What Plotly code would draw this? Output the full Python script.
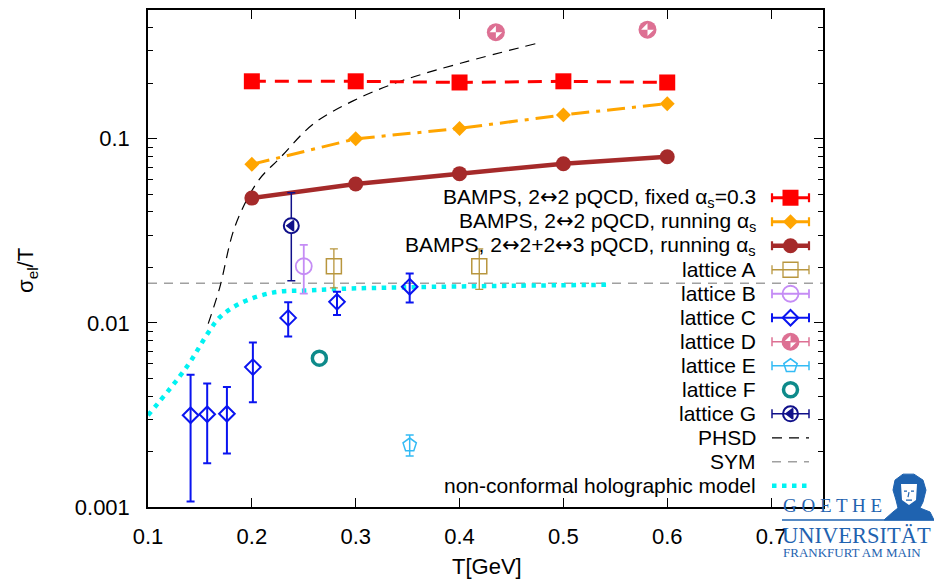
import plotly.graph_objects as go
import numpy as np

# ---------------- data ----------------
T_bamps = [0.2, 0.3, 0.4, 0.5, 0.6]
bamps_fixed = [0.205, 0.205, 0.202, 0.205, 0.202]
bamps_running = [0.0726, 0.0999, 0.1137, 0.1347, 0.155]
bamps_23 = [0.0476, 0.0568, 0.0646, 0.0731, 0.0798]

latA_T = [0.279, 0.419]
latA_v = [0.0203, 0.0203]
latA_up = [0.0252, 0.0252]
latA_lo = [0.0155, 0.0152]

latB_T = [0.25]
latB_v = [0.0203]
latB_up = [0.0265]
latB_lo = [0.0144]

latC_T = [0.141, 0.157, 0.176, 0.201, 0.235, 0.282, 0.352]
latC_v = [0.00315, 0.00319, 0.00321, 0.00575, 0.01064, 0.0130, 0.01572]
latC_up = [0.00523, 0.00468, 0.00448, 0.00782, 0.01293, 0.01477, 0.01856]
latC_lo = [0.00107, 0.00173, 0.00195, 0.00371, 0.00844, 0.01104, 0.01288]

latD_T = [0.435, 0.581]
latD_v = [0.379, 0.391]

latE_T = [0.352]
latE_v = [0.00217]
latE_up = [0.00246]
latE_lo = [0.00189]

latF_T = [0.265]
latF_v = [0.00643]

latG_T = [0.238]
latG_v = [0.0337]
latG_up = [0.0508]
latG_lo = [0.01694]

phsd_T = [0.158, 0.169, 0.184, 0.206, 0.227, 0.259, 0.297, 0.343, 0.401, 0.475]
phsd_v = [0.0099, 0.0155, 0.0337, 0.0589, 0.0785, 0.120, 0.160, 0.205, 0.257, 0.330]

sym_T = [0.1, 0.75]
sym_v = [0.0164, 0.0164]

holo_T = [0.10, 0.137, 0.158, 0.169, 0.188, 0.220, 0.253, 0.285, 0.349, 0.45, 0.545]
holo_v = [0.00315, 0.00573, 0.00885, 0.0107, 0.0127, 0.0146, 0.0150, 0.0153, 0.0156, 0.0159, 0.0161]

x_ticks = [0.1, 0.2, 0.3, 0.4, 0.5, 0.6, 0.7]
x_ticktext = ["0.1", "0.2", "0.3", "0.4", "0.5", "0.6", "0.7"]
y_ticks = [0.001, 0.01, 0.1]
y_ticktext = ["0.001", "0.01", "0.1"]

ARROW = "<span style='font-family:DejaVu Sans'>\u2194</span>"
legend_labels = [
    f"BAMPS, 2{ARROW}2 pQCD, fixed \u03b1<sub>s</sub>=0.3",
    f"BAMPS, 2{ARROW}2 pQCD, running \u03b1<sub>s</sub>",
    f"BAMPS, 2{ARROW}2+2{ARROW}3 pQCD, running \u03b1<sub>s</sub>",
    "lattice A", "lattice B", "lattice C", "lattice D", "lattice E",
    "lattice F", "lattice G", "PHSD", "SYM", "non-conformal holographic model",
]

# ---------------- layout geometry ----------------
W, H = 934, 579
L, R, TOP, BOT = 148, 823, 8, 507
FONT = "Liberation Sans, Arial, Helvetica, sans-serif"

def px(x):
    return (x - L) / (R - L)

def py(y):
    return (BOT - y) / (BOT - TOP)

def diff(v, b):
    return [abs(a - c) for a, c in zip(v, b)]

C_RED = "#ff0000"
C_ORANGE = "#ffa500"
C_BROWN = "#a52a2a"
C_A = "#b8963e"
C_B = "#c58cf5"
C_C = "#0a14f0"
C_D = "#dd7093"
C_E = "#33bbf5"
C_F = "#0e8a8a"
C_G = "#10108a"
C_SYM = "#a0a0a0"
C_HOLO = "#00f2f2"

fig = go.Figure()

def err(up, lo, v, color, w=1.6, cap=4):
    return dict(type="data", symmetric=False, array=diff(up, v), arrayminus=diff(v, lo),
                color=color, thickness=w, width=cap)

def markerD(x, y, xa="x", ya="y"):
    fig.add_trace(go.Scatter(x=x, y=y, xaxis=xa, yaxis=ya, mode="markers",
                             marker=dict(symbol="circle", size=18, color=C_D, line=dict(width=0)),
                             showlegend=False, hoverinfo="skip"))
    fig.add_trace(go.Scatter(x=x, y=y, xaxis=xa, yaxis=ya, mode="markers",
                             marker=dict(symbol="hourglass", size=9, angle=-45, color="white", line=dict(width=0)),
                             showlegend=False, hoverinfo="skip"))

def markerG(x, y, xa="x", ya="y"):
    fig.add_trace(go.Scatter(x=x, y=y, xaxis=xa, yaxis=ya, mode="markers",
                             marker=dict(symbol="circle", size=15, color="white", line=dict(width=2, color=C_G)),
                             showlegend=False, hoverinfo="skip"))
    fig.add_trace(go.Scatter(x=x, y=y, xaxis=xa, yaxis=ya, mode="markers",
                             marker=dict(symbol="triangle-left", size=9, color=C_G, line=dict(width=1.5, color=C_G)),
                             showlegend=False, hoverinfo="skip"))

def markerF(x, y, xa="x", ya="y"):
    fig.add_trace(go.Scatter(x=x, y=y, xaxis=xa, yaxis=ya, mode="markers",
                             marker=dict(symbol="circle-open", size=14, color=C_F, line=dict(width=3.5)),
                             showlegend=False, hoverinfo="skip"))

# reference lines
fig.add_trace(go.Scatter(x=sym_T, y=sym_v, mode="lines",
                         line=dict(color=C_SYM, width=1.5, dash="9px,7px"), showlegend=False))
fig.add_trace(go.Scatter(x=phsd_T, y=phsd_v, mode="lines", line_shape="spline",
                         line=dict(color="black", width=1.2, dash="10px,7px"), showlegend=False))
fig.add_trace(go.Scatter(x=holo_T, y=holo_v, mode="lines", line_shape="spline",
                         line=dict(color=C_HOLO, width=4.5, dash="4.5px,5.5px"), showlegend=False))

# BAMPS
fig.add_trace(go.Scatter(x=T_bamps, y=bamps_fixed, mode="lines+markers",
                         line=dict(color=C_RED, width=3, dash="14px,9px"),
                         marker=dict(symbol="square", size=16, color=C_RED), showlegend=False))
fig.add_trace(go.Scatter(x=T_bamps, y=bamps_running, mode="lines+markers",
                         line=dict(color=C_ORANGE, width=3, dash="18px,7px,4px,7px"),
                         marker=dict(symbol="diamond", size=11.5, color=C_ORANGE), showlegend=False))
fig.add_trace(go.Scatter(x=T_bamps, y=bamps_23, mode="lines+markers",
                         line=dict(color=C_BROWN, width=4.5),
                         marker=dict(symbol="circle", size=15, color=C_BROWN), showlegend=False))

# lattice
fig.add_trace(go.Scatter(x=latA_T, y=latA_v, mode="markers", error_y=err(latA_up, latA_lo, latA_v, C_A, 1.3),
                         marker=dict(symbol="square-open", size=15, color=C_A, line=dict(width=1.5)),
                         showlegend=False))
fig.add_trace(go.Scatter(x=latB_T, y=latB_v, mode="markers", error_y=err(latB_up, latB_lo, latB_v, C_B, 1.8),
                         marker=dict(symbol="circle-open", size=16, color=C_B, line=dict(width=1.8)),
                         showlegend=False))
fig.add_trace(go.Scatter(x=latC_T, y=latC_v, mode="markers", error_y=err(latC_up, latC_lo, latC_v, C_C, 2),
                         marker=dict(symbol="diamond-open", size=12, color=C_C, line=dict(width=2)),
                         showlegend=False))
markerD(latD_T, latD_v)
fig.add_trace(go.Scatter(x=latE_T, y=latE_v, mode="markers", error_y=err(latE_up, latE_lo, latE_v, C_E, 1.5),
                         marker=dict(symbol="pentagon-open", size=14, color=C_E, line=dict(width=1.5)),
                         showlegend=False))
markerF(latF_T, latF_v)
fig.add_trace(go.Scatter(x=latG_T, y=latG_v, mode="markers", error_y=err(latG_up, latG_lo, latG_v, C_G, 1.5),
                         marker=dict(symbol="circle", size=15, color="rgba(0,0,0,0)", line=dict(width=0)),
                         showlegend=False))
markerG(latG_T, latG_v)

# ---------------- manual legend (gnuplot style: text left of the sample) ----------------
leg_y0, leg_dy = 196.5, 24.1
txt_right = 758
s_x0, s_x1, s_xm = 772, 809, 790.5
shapes = []
annotations = []
legend_styles = [
    dict(kind="line_err", color=C_RED, w=3.2, sym="square", size=16),
    dict(kind="line_err", color=C_ORANGE, w=3, sym="diamond", size=11.5),
    dict(kind="line_err", color=C_BROWN, w=4.5, sym="circle", size=15),
    dict(kind="err", color=C_A, w=1.3, sym="square-open", size=15),
    dict(kind="err", color=C_B, w=1.8, sym="circle-open", size=16),
    dict(kind="err", color=C_C, w=2, sym="diamond-open", size=12),
    dict(kind="err", color=C_D, w=1.5, sym="D"),
    dict(kind="err", color=C_E, w=1.5, sym="pentagon-open", size=14),
    dict(kind="pt", color=C_F, w=3.5, sym="F"),
    dict(kind="err", color=C_G, w=1.5, sym="G"),
    dict(kind="dash", color="black", w=1.2, dash="10px,7px"),
    dict(kind="dash", color=C_SYM, w=1.5, dash="9px,7px"),
    dict(kind="dash", color=C_HOLO, w=4.5, dash="4.5px,5.5px"),
]
for i, (lab, st) in enumerate(zip(legend_labels, legend_styles)):
    yy = leg_y0 + i * leg_dy
    annotations.append(dict(text=lab, x=px(txt_right), y=py(yy), xref="paper", yref="paper",
                            xanchor="right", yanchor="middle", showarrow=False,
                            font=dict(family=FONT, size=21, color="black")))
    if st["kind"] in ("line_err", "err"):
        shapes.append(dict(type="line", xref="paper", yref="paper", x0=px(s_x0), x1=px(s_x1),
                           y0=py(yy), y1=py(yy), line=dict(color=st["color"], width=st["w"])))
        for xc in (s_x0, s_x1):
            shapes.append(dict(type="line", xref="paper", yref="paper", x0=px(xc), x1=px(xc),
                               y0=py(yy - 4.5), y1=py(yy + 4.5),
                               line=dict(color=st["color"], width=st["w"] if st["w"] < 3 else 2.2)))
    elif st["kind"] == "dash":
        fig.add_trace(go.Scatter(x=[s_x0, s_x1], y=[yy, yy], xaxis="x2", yaxis="y2", mode="lines",
                                 line=dict(color=st["color"], width=st["w"], dash=st["dash"]),
                                 showlegend=False, hoverinfo="skip"))
    if "sym" in st:
        if st["sym"] == "D":
            markerD([s_xm], [yy], "x2", "y2")
        elif st["sym"] == "G":
            markerG([s_xm], [yy], "x2", "y2")
        elif st["sym"] == "F":
            markerF([s_xm], [yy], "x2", "y2")
        else:
            filled = not st["sym"].endswith("open")
            fig.add_trace(go.Scatter(x=[s_xm], y=[yy], xaxis="x2", yaxis="y2", mode="markers",
                                     marker=dict(symbol=st["sym"], size=st["size"], color=st["color"],
                                                 line=dict(width=0 if filled else st["w"], color=st["color"])),
                                     showlegend=False, hoverinfo="skip"))

# ---------------- logo (Goethe Universitaet) ----------------
LOGO = "#1f63b0"
SERIF = "Liberation Serif, DejaVu Serif, serif"
annotations += [
    dict(text="G O E T H E", x=px(781), y=py(505), xref="paper", yref="paper", xanchor="left",
         yanchor="middle", showarrow=False, font=dict(family=SERIF, size=19, color=LOGO)),
    dict(text="UNIVERSITÄT", x=px(780), y=py(536), xref="paper", yref="paper", xanchor="left",
         yanchor="middle", showarrow=False, font=dict(family=SERIF, size=22.5, color=LOGO)),
    dict(text="FRANKFURT AM MAIN", x=px(781), y=py(553), xref="paper", yref="paper", xanchor="left",
         yanchor="middle", showarrow=False, font=dict(family=SERIF, size=13, color=LOGO)),
]
shapes.append(dict(type="line", xref="paper", yref="paper", x0=px(782), x1=px(934), y0=py(520), y1=py(520),
                   line=dict(color=LOGO, width=1.5)))

def P(x, y):
    return f"{px(x):.5f},{py(y):.5f}"

portrait = ("M " + P(884, 520) + " L " + P(893, 512) + " L " + P(898, 508) + " L " + P(896, 500) +
            " L " + P(893, 490) + " L " + P(895, 480) + " L " + P(903, 474) + " L " + P(914, 474) +
            " L " + P(923, 480) + " L " + P(926, 490) + " L " + P(923, 502) + " L " + P(920, 508) +
            " L " + P(930, 512) + " L " + P(934, 520) + " Z")
shapes.append(dict(type="path", xref="paper", yref="paper", path=portrait, fillcolor=LOGO,
                   line=dict(color=LOGO, width=1)))
shapes.append(dict(type="path", xref="paper", yref="paper",
                   path="M " + P(901, 484) + " L " + P(917, 484) + " L " + P(916, 500) + " L " + P(909, 505) +
                        " L " + P(902, 500) + " Z",
                   fillcolor="white", line=dict(color="white", width=0)))
shapes.append(dict(type="path", xref="paper", yref="paper",
                   path="M " + P(904, 491) + " L " + P(907, 491) + " M " + P(911, 491) + " L " + P(914, 491) +
                        " M " + P(909, 492) + " L " + P(908, 497) + " M " + P(906, 500) + " L " + P(912, 500),
                   line=dict(color=LOGO, width=1.2)))

# axis titles
annotations += [
    dict(text="\u03c3<sub>el</sub>/T", x=px(27), y=py(270), xref="paper", yref="paper", textangle=-90,
         xanchor="center", yanchor="middle", showarrow=False, font=dict(family=FONT, size=22, color="black")),
    dict(text="T[GeV]", x=px(487), y=py(567), xref="paper", yref="paper",
         xanchor="center", yanchor="middle", showarrow=False, font=dict(family=FONT, size=22, color="black")),
]

fig.update_layout(
    width=W, height=H,
    margin=dict(l=L, r=W - R, t=TOP, b=H - BOT),
    paper_bgcolor="white", plot_bgcolor="white",
    showlegend=False,
    font=dict(family=FONT, size=22, color="black"),
    xaxis=dict(range=[0.1, 0.75], tickvals=x_ticks, ticktext=x_ticktext, ticks="inside", ticklen=9,
               tickwidth=1, tickcolor="black", showline=True, linecolor="black", linewidth=1.5,
               mirror="allticks", showgrid=False, zeroline=False, tickfont=dict(size=22),
               ticklabelstandoff=9),
    yaxis=dict(type="log", range=[-3, np.log10(0.5)], tickvals=y_ticks, ticktext=y_ticktext,
               ticks="inside", ticklen=9, tickwidth=1, tickcolor="black", showline=True,
               linecolor="black", linewidth=1.5, mirror="allticks", showgrid=False, zeroline=False,
               tickfont=dict(size=22), ticklabelstandoff=12,
               minor=dict(ticks="inside", ticklen=5, tickwidth=1, tickcolor="black", dtick="D1", showgrid=False)),
    xaxis2=dict(range=[L, R], overlaying="x", visible=False, anchor="y2"),
    yaxis2=dict(range=[BOT, TOP], overlaying="y", visible=False, anchor="x2"),
    shapes=shapes,
    annotations=annotations,
)

fig.write_html("out.html", config={"displayModeBar": False},
               post_script="document.body.style.margin='0';document.body.style.overflow='hidden';")
